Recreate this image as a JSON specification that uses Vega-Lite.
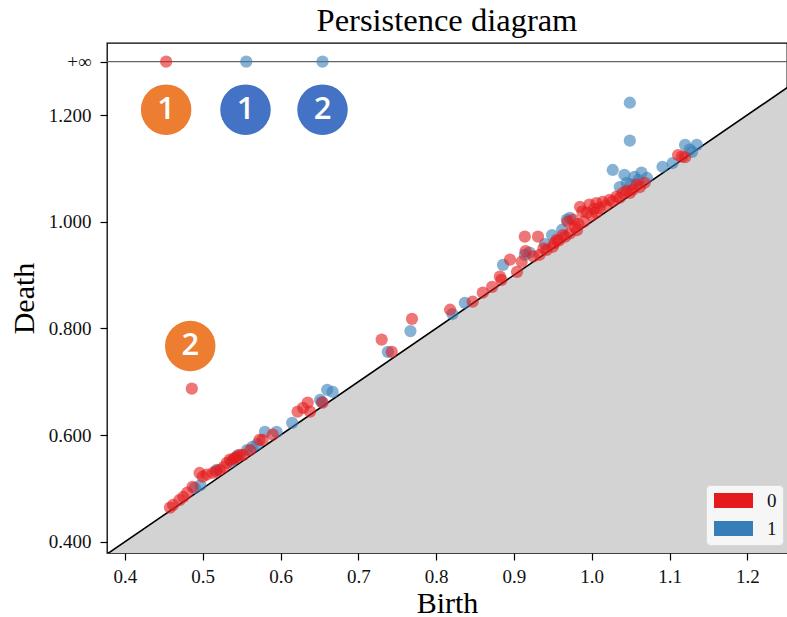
{
  "$schema": "https://vega.github.io/schema/vega-lite/v6.json",
  "width": 680,
  "height": 510,
  "autosize": {"type": "none"},
  "padding": {"left": 107, "top": 43, "right": 0, "bottom": 64},
  "background": "white",
  "title": {"text": "Persistence diagram", "font": "Liberation Serif", "fontSize": 32.5, "fontWeight": "normal", "color": "#000", "offset": 6, "anchor": "middle"},
  "config": {
    "view": {"stroke": "#000", "strokeWidth": 1.3}
  },
  "datasets": {
    "diag": [{"b": 0.3, "d": 0.3}, {"b": 1.4, "d": 1.4}],
    "pts": [
      {"b": 0.556, "d": 1.3, "dim": "1"}, {"b": 0.654, "d": 1.3, "dim": "1"}, {"b": 1.049, "d": 1.223, "dim": "1"}, {"b": 1.049, "d": 1.152, "dim": "1"}, {"b": 1.027, "d": 1.097, "dim": "1"}, {"b": 0.490, "d": 0.501, "dim": "1"}, {"b": 0.497, "d": 0.506, "dim": "1"}, {"b": 0.518, "d": 0.535, "dim": "1"}, {"b": 0.537, "d": 0.550, "dim": "1"}, {"b": 0.545, "d": 0.562, "dim": "1"}, {"b": 0.557, "d": 0.572, "dim": "1"}, {"b": 0.564, "d": 0.578, "dim": "1"}, {"b": 0.570, "d": 0.583, "dim": "1"}, {"b": 0.580, "d": 0.606, "dim": "1"}, {"b": 0.595, "d": 0.606, "dim": "1"}, {"b": 0.615, "d": 0.623, "dim": "1"}, {"b": 0.651, "d": 0.666, "dim": "1"}, {"b": 0.653, "d": 0.662, "dim": "1"}, {"b": 0.660, "d": 0.685, "dim": "1"}, {"b": 0.667, "d": 0.681, "dim": "1"}, {"b": 0.738, "d": 0.756, "dim": "1"}, {"b": 0.767, "d": 0.795, "dim": "1"}, {"b": 0.821, "d": 0.827, "dim": "1"}, {"b": 0.837, "d": 0.848, "dim": "1"}, {"b": 0.886, "d": 0.919, "dim": "1"}, {"b": 0.914, "d": 0.938, "dim": "1"}, {"b": 0.920, "d": 0.942, "dim": "1"}, {"b": 0.940, "d": 0.958, "dim": "1"}, {"b": 0.949, "d": 0.975, "dim": "1"}, {"b": 0.962, "d": 0.985, "dim": "1"}, {"b": 0.968, "d": 1.004, "dim": "1"}, {"b": 0.972, "d": 1.007, "dim": "1"}, {"b": 1.036, "d": 1.065, "dim": "1"}, {"b": 1.042, "d": 1.088, "dim": "1"}, {"b": 1.045, "d": 1.073, "dim": "1"}, {"b": 1.050, "d": 1.070, "dim": "1"}, {"b": 1.055, "d": 1.084, "dim": "1"}, {"b": 1.060, "d": 1.078, "dim": "1"}, {"b": 1.064, "d": 1.092, "dim": "1"}, {"b": 1.071, "d": 1.082, "dim": "1"}, {"b": 1.091, "d": 1.103, "dim": "1"}, {"b": 1.104, "d": 1.110, "dim": "1"}, {"b": 1.120, "d": 1.144, "dim": "1"}, {"b": 1.129, "d": 1.131, "dim": "1"}, {"b": 1.135, "d": 1.144, "dim": "1"}, {"b": 1.126, "d": 1.135, "dim": "1"},
      {"b": 0.453, "d": 1.3, "dim": "0"}, {"b": 0.486, "d": 0.687, "dim": "0"}, {"b": 0.458, "d": 0.464, "dim": "0"}, {"b": 0.462, "d": 0.469, "dim": "0"}, {"b": 0.470, "d": 0.478, "dim": "0"}, {"b": 0.475, "d": 0.484, "dim": "0"}, {"b": 0.480, "d": 0.492, "dim": "0"}, {"b": 0.487, "d": 0.503, "dim": "0"}, {"b": 0.496, "d": 0.529, "dim": "0"}, {"b": 0.500, "d": 0.522, "dim": "0"}, {"b": 0.505, "d": 0.526, "dim": "0"}, {"b": 0.513, "d": 0.529, "dim": "0"}, {"b": 0.517, "d": 0.532, "dim": "0"}, {"b": 0.522, "d": 0.535, "dim": "0"}, {"b": 0.527, "d": 0.540, "dim": "0"}, {"b": 0.531, "d": 0.548, "dim": "0"}, {"b": 0.535, "d": 0.554, "dim": "0"}, {"b": 0.539, "d": 0.554, "dim": "0"}, {"b": 0.541, "d": 0.557, "dim": "0"}, {"b": 0.544, "d": 0.559, "dim": "0"}, {"b": 0.548, "d": 0.563, "dim": "0"}, {"b": 0.552, "d": 0.563, "dim": "0"}, {"b": 0.561, "d": 0.572, "dim": "0"}, {"b": 0.573, "d": 0.591, "dim": "0"}, {"b": 0.577, "d": 0.591, "dim": "0"}, {"b": 0.590, "d": 0.601, "dim": "0"}, {"b": 0.622, "d": 0.644, "dim": "0"}, {"b": 0.629, "d": 0.651, "dim": "0"}, {"b": 0.635, "d": 0.661, "dim": "0"}, {"b": 0.638, "d": 0.644, "dim": "0"}, {"b": 0.654, "d": 0.661, "dim": "0"}, {"b": 0.730, "d": 0.779, "dim": "0"}, {"b": 0.743, "d": 0.756, "dim": "0"}, {"b": 0.769, "d": 0.818, "dim": "0"}, {"b": 0.818, "d": 0.835, "dim": "0"}, {"b": 0.847, "d": 0.850, "dim": "0"}, {"b": 0.860, "d": 0.867, "dim": "0"}, {"b": 0.872, "d": 0.878, "dim": "0"}, {"b": 0.884, "d": 0.891, "dim": "0"}, {"b": 0.882, "d": 0.897, "dim": "0"}, {"b": 0.895, "d": 0.929, "dim": "0"}, {"b": 0.904, "d": 0.906, "dim": "0"}, {"b": 0.910, "d": 0.925, "dim": "0"}, {"b": 0.914, "d": 0.972, "dim": "0"}, {"b": 0.915, "d": 0.945, "dim": "0"}, {"b": 0.925, "d": 0.935, "dim": "0"}, {"b": 0.931, "d": 0.972, "dim": "0"}, {"b": 0.933, "d": 0.938, "dim": "0"}, {"b": 0.938, "d": 0.950, "dim": "0"}, {"b": 0.942, "d": 0.947, "dim": "0"}, {"b": 0.950, "d": 0.953, "dim": "0"}, {"b": 0.952, "d": 0.960, "dim": "0"}, {"b": 0.955, "d": 0.966, "dim": "0"}, {"b": 0.958, "d": 0.965, "dim": "0"}, {"b": 0.963, "d": 0.975, "dim": "0"}, {"b": 0.966, "d": 0.972, "dim": "0"}, {"b": 0.969, "d": 1.000, "dim": "0"}, {"b": 0.972, "d": 0.978, "dim": "0"}, {"b": 0.978, "d": 0.990, "dim": "0"}, {"b": 0.981, "d": 0.984, "dim": "0"}, {"b": 0.983, "d": 0.996, "dim": "0"}, {"b": 0.976, "d": 1.004, "dim": "0"}, {"b": 0.985, "d": 1.028, "dim": "0"}, {"b": 0.988, "d": 1.019, "dim": "0"}, {"b": 0.990, "d": 1.000, "dim": "0"}, {"b": 0.994, "d": 1.017, "dim": "0"}, {"b": 0.997, "d": 1.032, "dim": "0"}, {"b": 1.000, "d": 1.012, "dim": "0"}, {"b": 1.003, "d": 1.024, "dim": "0"}, {"b": 1.006, "d": 1.017, "dim": "0"}, {"b": 1.006, "d": 1.035, "dim": "0"}, {"b": 1.010, "d": 1.026, "dim": "0"}, {"b": 1.014, "d": 1.037, "dim": "0"}, {"b": 1.018, "d": 1.030, "dim": "0"}, {"b": 1.023, "d": 1.041, "dim": "0"}, {"b": 1.027, "d": 1.038, "dim": "0"}, {"b": 1.032, "d": 1.047, "dim": "0"}, {"b": 1.036, "d": 1.045, "dim": "0"}, {"b": 1.040, "d": 1.054, "dim": "0"}, {"b": 1.045, "d": 1.058, "dim": "0"}, {"b": 1.049, "d": 1.054, "dim": "0"}, {"b": 1.053, "d": 1.060, "dim": "0"}, {"b": 1.058, "d": 1.070, "dim": "0"}, {"b": 1.062, "d": 1.065, "dim": "0"}, {"b": 1.068, "d": 1.073, "dim": "0"}, {"b": 1.111, "d": 1.125, "dim": "0"}, {"b": 1.116, "d": 1.122, "dim": "0"}, {"b": 1.120, "d": 1.121, "dim": "0"}
    ],
    "ann": [
      {"b": 0.453, "d": 1.210, "label": "1", "grp": "0"},
      {"b": 0.555, "d": 1.210, "label": "1", "grp": "1"},
      {"b": 0.654, "d": 1.210, "label": "2", "grp": "1"},
      {"b": 0.484, "d": 0.767, "label": "2", "grp": "0"}
    ]
  },
  "layer": [
    {
      "data": {"name": "diag"},
      "mark": {"type": "area", "color": "#d3d3d3", "clip": true},
      "encoding": {
        "x": {"field": "b", "type": "quantitative", "scale": {"domain": [0.377, 1.251], "nice": false, "zero": false},
          "axis": {"title": "Birth", "values": [0.4, 0.5, 0.6, 0.7, 0.8, 0.9, 1.0, 1.1, 1.2], "format": ".1f", "titlePadding": 2, "labelFont": "Liberation Serif", "labelFontSize": 19, "labelColor": "#111", "titleFont": "Liberation Serif", "titleFontSize": 30, "titleFontWeight": "normal", "titleColor": "#000", "tickColor": "#000", "tickSize": 7, "tickWidth": 1.2, "domain": false, "grid": false, "labelPadding": 7}},
        "y": {"field": "d", "type": "quantitative", "scale": {"domain": [0.379, 1.335], "nice": false, "zero": false},
          "axis": {"title": "Death", "values": [0.4, 0.6, 0.8, 1.0, 1.2, 1.3], "labelExpr": "datum.value > 1.25 ? '+∞' : format(datum.value, '.3f')", "titlePadding": 9, "labelFont": "Liberation Serif", "labelFontSize": 19, "labelColor": "#111", "titleFont": "Liberation Serif", "titleFontSize": 30, "titleFontWeight": "normal", "titleColor": "#000", "tickColor": "#000", "tickSize": 7, "tickWidth": 1.2, "domain": false, "grid": false, "labelPadding": 9}},
        "y2": {"datum": 0.3}
      }
    },
    {
      "data": {"name": "diag"},
      "mark": {"type": "line", "color": "#000", "strokeWidth": 1.6, "clip": true},
      "encoding": {
        "x": {"field": "b", "type": "quantitative"},
        "y": {"field": "d", "type": "quantitative"}
      }
    },
    {
      "data": {"values": [{}]},
      "mark": {"type": "rule", "color": "#666", "strokeWidth": 1.2},
      "encoding": {"y": {"datum": 1.3}}
    },
    {
      "data": {"name": "pts"},
      "mark": {"type": "circle", "size": 150, "opacity": 0.6},
      "encoding": {
        "x": {"field": "b", "type": "quantitative"},
        "y": {"field": "d", "type": "quantitative"},
        "color": {"field": "dim", "type": "nominal", "sort": ["0", "1"], "scale": {"domain": ["0", "1"], "range": ["#e41a1c", "#377eb8"]},
          "legend": {"title": null, "orient": "none", "legendX": 599, "legendY": 442, "symbolType": "M-2.6,-1L2.6,-1L2.6,1L-2.6,1Z", "symbolSize": 225, "symbolOffset": 12, "symbolOpacity": 1, "symbolStrokeWidth": 0, "labelFont": "Liberation Serif", "labelFontSize": 19, "labelColor": "#111", "fillColor": "#f6f6f6", "strokeColor": "#d8d8d8", "cornerRadius": 4, "padding": 6, "rowPadding": 8, "labelOffset": 24}}
      }
    },
    {
      "data": {"name": "ann"},
      "mark": {"type": "circle", "size": 2550, "opacity": 1},
      "encoding": {
        "x": {"field": "b", "type": "quantitative"},
        "y": {"field": "d", "type": "quantitative"},
        "color": {"field": "grp", "type": "nominal", "scale": {"domain": ["0", "1"], "range": ["#ED7D31", "#4472C4"]}, "legend": null}
      }
    },
    {
      "data": {"name": "ann"},
      "mark": {"type": "text", "color": "white", "font": "Open Sans", "fontSize": 31, "fontWeight": 600, "align": "center", "baseline": "middle"},
      "encoding": {
        "x": {"field": "b", "type": "quantitative"},
        "y": {"field": "d", "type": "quantitative"},
        "text": {"field": "label"}
      }
    }
  ],
  "resolve": {"scale": {"color": "independent"}}
}
